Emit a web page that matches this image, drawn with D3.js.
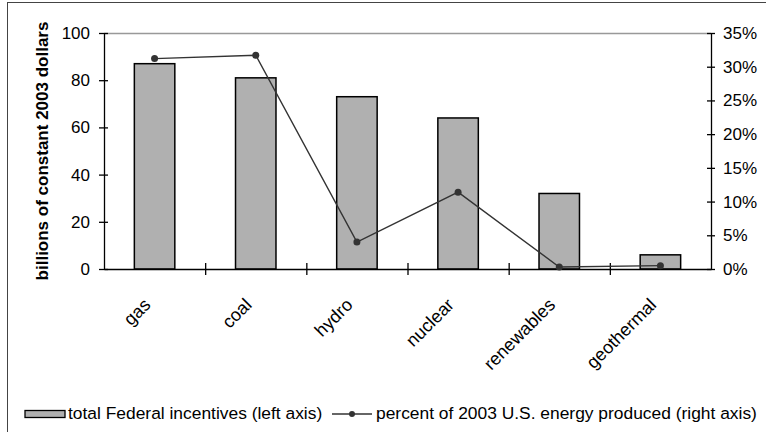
<!DOCTYPE html>
<html>
<head>
<meta charset="utf-8">
<script src="https://cdn.jsdelivr.net/npm/d3@7"></script>
<style>
  body { margin: 0; background: #fff; }
  svg { display: block; }
  text { font-family: "Liberation Sans", Arial, sans-serif; fill: #000; }
</style>
</head>
<body>
<svg id="chart" width="766" height="432"></svg>
<script>
// Federal incentives by energy source vs. share of 2003 U.S. energy production
const categories = ["gas", "coal", "hydro", "nuclear", "renewables", "geothermal"];
const incentives = [87, 81, 73, 64, 32, 6];            // billions of constant 2003 dollars
const energyShare = [31.2, 31.7, 4.0, 11.4, 0.3, 0.5];  // percent of 2003 U.S. energy produced
const leftTicks = [0, 20, 40, 60, 80, 100];
const rightTicks = [0, 5, 10, 15, 20, 25, 30, 35];

const svg = d3.select("#chart");
const plot = { left: 104, right: 711, top: 33, bottom: 269 };
const fontSize = 17;
const labelSize = 18;
const legendSize = 17.4;

// outer chart frame
svg.append("rect")
  .attr("x", 7.5).attr("y", 2.5)
  .attr("width", 766).attr("height", 440)
  .attr("fill", "none").attr("stroke", "#444").attr("stroke-width", 1);

const x = d3.scaleBand()
  .domain(categories)
  .range([plot.left, plot.right])
  .paddingInner(0.6)
  .paddingOuter(0.3);

// category boundaries for the tick marks of the category axis
const xEdge = d3.scaleLinear().domain([0, categories.length]).range([plot.left, plot.right]);

const yLeft = d3.scaleLinear().domain([0, 100]).range([plot.bottom, plot.top]);
const yRight = d3.scaleLinear().domain([0, 35]).range([plot.bottom, plot.top]);

// top border of the plot area
svg.append("line")
  .attr("x1", plot.left).attr("x2", plot.right)
  .attr("y1", plot.top + 0.5).attr("y2", plot.top + 0.5)
  .attr("stroke", "#999").attr("stroke-width", 1.5);

// bars
svg.append("g").selectAll("rect")
  .data(categories)
  .join("rect")
  .attr("x", d => x(d))
  .attr("y", (d, i) => yLeft(incentives[i]))
  .attr("width", x.bandwidth())
  .attr("height", (d, i) => yLeft(0) - yLeft(incentives[i]))
  .attr("fill", "#b0b0b0")
  .attr("stroke", "#000")
  .attr("stroke-width", 1.5);

// left axis
const gLeft = svg.append("g")
  .attr("transform", `translate(${plot.left},0)`)
  .call(d3.axisLeft(yLeft).tickValues(leftTicks).tickSizeOuter(0).tickPadding(8));
gLeft.selectAll(".tick line").attr("x1", 4).attr("x2", -5);
gLeft.selectAll(".tick text").style("font-size", fontSize + "px");

// right axis
const gRight = svg.append("g")
  .attr("transform", `translate(${plot.right},0)`)
  .call(d3.axisRight(yRight).tickValues(rightTicks).tickSizeOuter(0).tickPadding(6)
    .tickFormat(d => d + "%"));
gRight.selectAll(".tick line").attr("x1", -4).attr("x2", 4);
gRight.selectAll(".tick text").style("font-size", fontSize + "px");

// category axis
const gBottom = svg.append("g")
  .attr("transform", `translate(0,${plot.bottom})`)
  .call(d3.axisBottom(xEdge).tickValues(d3.range(1, categories.length)).tickSizeOuter(0)
    .tickFormat(() => ""));
gBottom.selectAll(".tick line").attr("y1", -6).attr("y2", 6);

[gLeft, gRight, gBottom].forEach(g => {
  g.select(".domain").attr("stroke", "#000").attr("stroke-width", 1.3);
  g.selectAll(".tick line").attr("stroke", "#000").attr("stroke-width", 1.3);
});

// rotated category labels
svg.append("g").selectAll("text")
  .data(categories)
  .join("text")
  .attr("transform", d => `translate(${x(d) + x.bandwidth() / 2 - 3},306) rotate(-45)`)
  .attr("text-anchor", "end")
  .style("font-size", labelSize + "px")
  .text(d => d);

// share line with markers
const lineGen = d3.line()
  .x((d, i) => x(categories[i]) + x.bandwidth() / 2)
  .y(d => yRight(d));

svg.append("path")
  .datum(energyShare)
  .attr("d", lineGen)
  .attr("fill", "none")
  .attr("stroke", "#333")
  .attr("stroke-width", 1.4);

svg.append("g").selectAll("circle")
  .data(energyShare)
  .join("circle")
  .attr("cx", (d, i) => x(categories[i]) + x.bandwidth() / 2)
  .attr("cy", d => yRight(d))
  .attr("r", 3.5)
  .attr("fill", "#333");

// left axis title
svg.append("text")
  .attr("transform", `translate(42,${(plot.top + plot.bottom) / 2}) rotate(-90)`)
  .attr("text-anchor", "middle")
  .attr("dy", "0.35em")
  .style("font-size", fontSize + "px")
  .style("font-weight", "bold")
  .text("billions of constant 2003 dollars");

// legend
const legendY = 414;
const legend = svg.append("g");
legend.append("rect")
  .attr("x", 25).attr("y", legendY - 3.5)
  .attr("width", 40).attr("height", 7)
  .attr("fill", "#b0b0b0").attr("stroke", "#000").attr("stroke-width", 1.3);
legend.append("text")
  .attr("x", 68).attr("y", legendY - 1).attr("dy", "0.35em")
  .style("font-size", legendSize + "px")
  .text("total Federal incentives (left axis)");
legend.append("line")
  .attr("x1", 332).attr("x2", 372)
  .attr("y1", legendY).attr("y2", legendY)
  .attr("stroke", "#333").attr("stroke-width", 1.4);
legend.append("circle")
  .attr("cx", 352).attr("cy", legendY).attr("r", 3)
  .attr("fill", "#333");
legend.append("text")
  .attr("x", 376).attr("y", legendY - 1).attr("dy", "0.35em")
  .style("font-size", legendSize + "px")
  .text("percent of 2003 U.S. energy produced (right axis)");
</script>
</body>
</html>
